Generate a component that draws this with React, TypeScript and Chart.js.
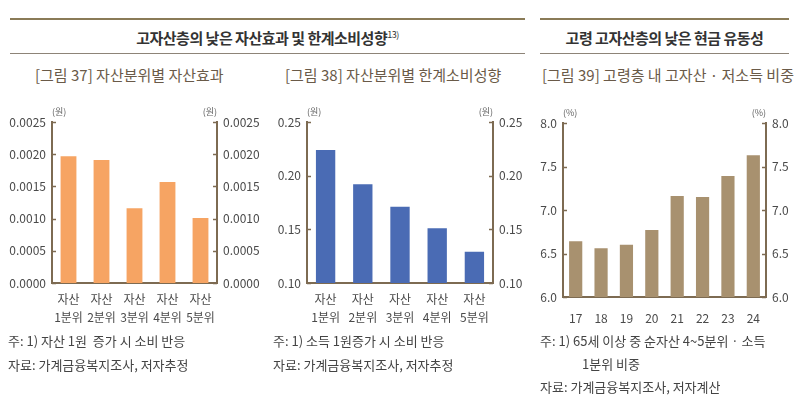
import React, { useEffect, useRef } from "react";
import { Chart, registerables } from "chart.js";

Chart.register(...registerables);

// ---------- data ----------
const quintileLabels = [
  ["자산", "1분위"],
  ["자산", "2분위"],
  ["자산", "3분위"],
  ["자산", "4분위"],
  ["자산", "5분위"],
];
const assetEffect = [0.00197, 0.00191, 0.00116, 0.00157, 0.00101];
const marginalPropensity = [0.224, 0.192, 0.171, 0.151, 0.129];
const years = ["17", "18", "19", "20", "21", "22", "23", "24"];
const elderlyShare = [6.64, 6.56, 6.6, 6.77, 7.16, 7.15, 7.39, 7.63];

const FONT = "'Noto Sans CJK KR', 'Noto Sans', sans-serif";
const AXIS = "#7d6b52";
const TICK_TEXT = "#4a4a4a";

const axisDecor = {
  id: "axisDecor",
  afterDraw(chart: any, _args: any, opts: any) {
    const { ctx, chartArea: a, scales } = chart;
    ctx.save();
    ctx.strokeStyle = AXIS;
    ctx.lineWidth = 1.5;
    for (const id of ["y", "y2"]) {
      const s = scales[id];
      if (!s) continue;
      s.ticks.forEach((t: any) => {
        const py = Math.round(s.getPixelForValue(t.value)) + 0.5;
        ctx.beginPath();
        if (id === "y") {
          ctx.moveTo(a.left, py);
          ctx.lineTo(a.left + 4, py);
        } else {
          ctx.moveTo(a.right - 4, py);
          ctx.lineTo(a.right, py);
        }
        ctx.stroke();
      });
    }
    ctx.fillStyle = "#666";
    ctx.font = `9px ${FONT}`;
    ctx.textBaseline = "middle";
    ctx.textAlign = "left";
    ctx.fillText(opts.unit, a.left, a.top - 10);
    ctx.textAlign = "right";
    ctx.fillText(opts.unit, a.right, a.top - 10);
    ctx.restore();
  },
};

type Spec = {
  labels: any[];
  data: number[];
  color: string;
  min: number;
  max: number;
  step: number;
  decimals: number;
  unit: string;
  leftW: number;
  rightW: number;
  padTop: number;
  xH: number;
  barPct: number;
  xPad: number;
};

function makeConfig(s: Spec): any {
  const yCommon = (pos: "left" | "right", w: number) => ({
    type: "linear",
    position: pos,
    min: s.min,
    max: s.max,
    grid: { display: false, drawTicks: false },
    border: { display: true, color: AXIS, width: 2 },
    ticks: {
      stepSize: s.step,
      padding: 6,
      color: TICK_TEXT,
      font: { family: FONT, size: 12 },
      callback: (v: any) => Number(v).toFixed(s.decimals),
    },
    afterFit: (sc: any) => {
      sc.width = w;
    },
  });
  return {
    type: "bar",
    data: {
      labels: s.labels,
      datasets: [
        {
          data: s.data,
          backgroundColor: s.color,
          borderWidth: 0,
          barPercentage: s.barPct,
          categoryPercentage: 1,
          yAxisID: "y",
        },
      ],
    },
    options: {
      responsive: false,
      animation: false,
      layout: { padding: { top: s.padTop, left: 0, right: 0, bottom: 0 } },
      plugins: {
        legend: { display: false },
        tooltip: { enabled: false },
        axisDecor: { unit: s.unit },
      },
      scales: {
        x: {
          grid: { display: false, drawTicks: false },
          border: { display: true, color: AXIS, width: 2 },
          ticks: {
            autoSkip: false,
            maxRotation: 0,
            padding: s.xPad,
            color: TICK_TEXT,
            font: { family: FONT, size: 12, lineHeight: 1.5 },
          },
          afterFit: (sc: any) => {
            sc.height = s.xH;
          },
        },
        y: yCommon("left", s.leftW),
        y2: yCommon("right", s.rightW),
      },
    },
    plugins: [axisDecor],
  };
}

function BarChart(props: { spec: Spec; left: number; top: number; width: number; height: number }) {
  const ref = useRef<HTMLCanvasElement>(null);
  useEffect(() => {
    const chart = new Chart(ref.current as HTMLCanvasElement, makeConfig(props.spec));
    return () => chart.destroy();
  }, []);
  return (
    <canvas
      ref={ref}
      width={props.width}
      height={props.height}
      style={{ position: "absolute", left: props.left, top: props.top, width: props.width, height: props.height }}
    />
  );
}

const chart37: Spec = {
  labels: quintileLabels,
  data: assetEffect,
  color: "#f6a463",
  min: 0,
  max: 0.0025,
  step: 0.0005,
  decimals: 4,
  unit: "(원)",
  leftW: 52,
  rightW: 48,
  padTop: 27,
  xH: 52,
  barPct: 0.48,
  xPad: 7,
};
const chart38: Spec = {
  labels: quintileLabels,
  data: marginalPropensity,
  color: "#4a6bb4",
  min: 0.1,
  max: 0.25,
  step: 0.05,
  decimals: 2,
  unit: "(원)",
  leftW: 52,
  rightW: 42,
  padTop: 27,
  xH: 52,
  barPct: 0.52,
  xPad: 7,
};
const chart39: Spec = {
  labels: years,
  data: elderlyShare,
  color: "#a8916f",
  min: 6,
  max: 8,
  step: 0.5,
  decimals: 1,
  unit: "(%)",
  leftW: 38,
  rightW: 34,
  padTop: 28,
  xH: 38,
  barPct: 0.52,
  xPad: 12,
};

const noteStyle: React.CSSProperties = {
  position: "absolute",
  fontSize: 13,
  color: "#444",
  whiteSpace: "nowrap",
  lineHeight: "16px",
};

export default function App() {
  return (
    <div
      style={{
        position: "absolute",
        left: 0,
        top: 0,
        width: 800,
        height: 406,
        background: "#fff",
        fontFamily: FONT,
        overflow: "hidden",
      }}
    >
      {/* header lines */}
      <div style={{ position: "absolute", left: 10, top: 18, width: 515, height: 2, background: "#8a7b57" }} />
      <div style={{ position: "absolute", left: 10, top: 53, width: 515, height: 1, background: "#8d8478" }} />
      <div style={{ position: "absolute", left: 540, top: 18, width: 249, height: 2, background: "#8a7b57" }} />
      <div style={{ position: "absolute", left: 540, top: 53, width: 249, height: 1, background: "#8d8478" }} />

      <div
        style={{
          position: "absolute",
          left: 10,
          width: 515,
          top: 28,
          textAlign: "center",
          fontSize: 15,
          fontWeight: 700,
          color: "#333",
          letterSpacing: -0.5,
          lineHeight: "20px",
        }}
      >
        고자산층의 낮은 자산효과 및 한계소비성향
        <sup style={{ fontSize: 9, fontWeight: 400, verticalAlign: 0, position: "relative", top: -6 }}>13)</sup>
      </div>
      <div
        style={{
          position: "absolute",
          left: 540,
          width: 249,
          top: 28,
          textAlign: "center",
          fontSize: 15,
          fontWeight: 700,
          color: "#333",
          letterSpacing: -0.5,
          lineHeight: "20px",
        }}
      >
        고령 고자산층의 낮은 현금 유동성
      </div>

      {/* sub titles */}
      <div style={{ position: "absolute", left: 35, top: 65, fontSize: 15, color: "#6a5a48", whiteSpace: "nowrap", lineHeight: "20px" }}>
        [그림 37] 자산분위별 자산효과
      </div>
      <div style={{ position: "absolute", left: 285, top: 65, fontSize: 15, color: "#6a5a48", whiteSpace: "nowrap", lineHeight: "20px" }}>
        [그림 38] 자산분위별 한계소비성향
      </div>
      <div style={{ position: "absolute", left: 542, top: 65, fontSize: 15, color: "#6a5a48", whiteSpace: "nowrap", lineHeight: "20px" }}>
        [그림 39] 고령층 내 고자산 · 저소득 비중
      </div>

      {/* charts */}
      <BarChart spec={chart37} left={0} top={95} width={265} height={240} />
      <BarChart spec={chart38} left={255} top={95} width={280} height={240} />
      <BarChart spec={chart39} left={525} top={95} width={275} height={240} />

      {/* notes */}
      <div style={{ ...noteStyle, left: 8, top: 333 }}>주: 1) 자산 1원 &nbsp;증가 시 소비 반응</div>
      <div style={{ ...noteStyle, left: 8, top: 357 }}>자료: 가계금융복지조사, 저자추정</div>
      <div style={{ ...noteStyle, left: 273, top: 333 }}>주: 1) 소득 1원증가 시 소비 반응</div>
      <div style={{ ...noteStyle, left: 273, top: 357 }}>자료: 가계금융복지조사, 저자추정</div>
      <div style={{ ...noteStyle, left: 540, top: 333 }}>주: 1) 65세 이상 중 순자산 4~5분위 · 소득</div>
      <div style={{ ...noteStyle, left: 582, top: 356 }}>1분위 비중</div>
      <div style={{ ...noteStyle, left: 540, top: 379 }}>자료: 가계금융복지조사, 저자계산</div>
    </div>
  );
}
